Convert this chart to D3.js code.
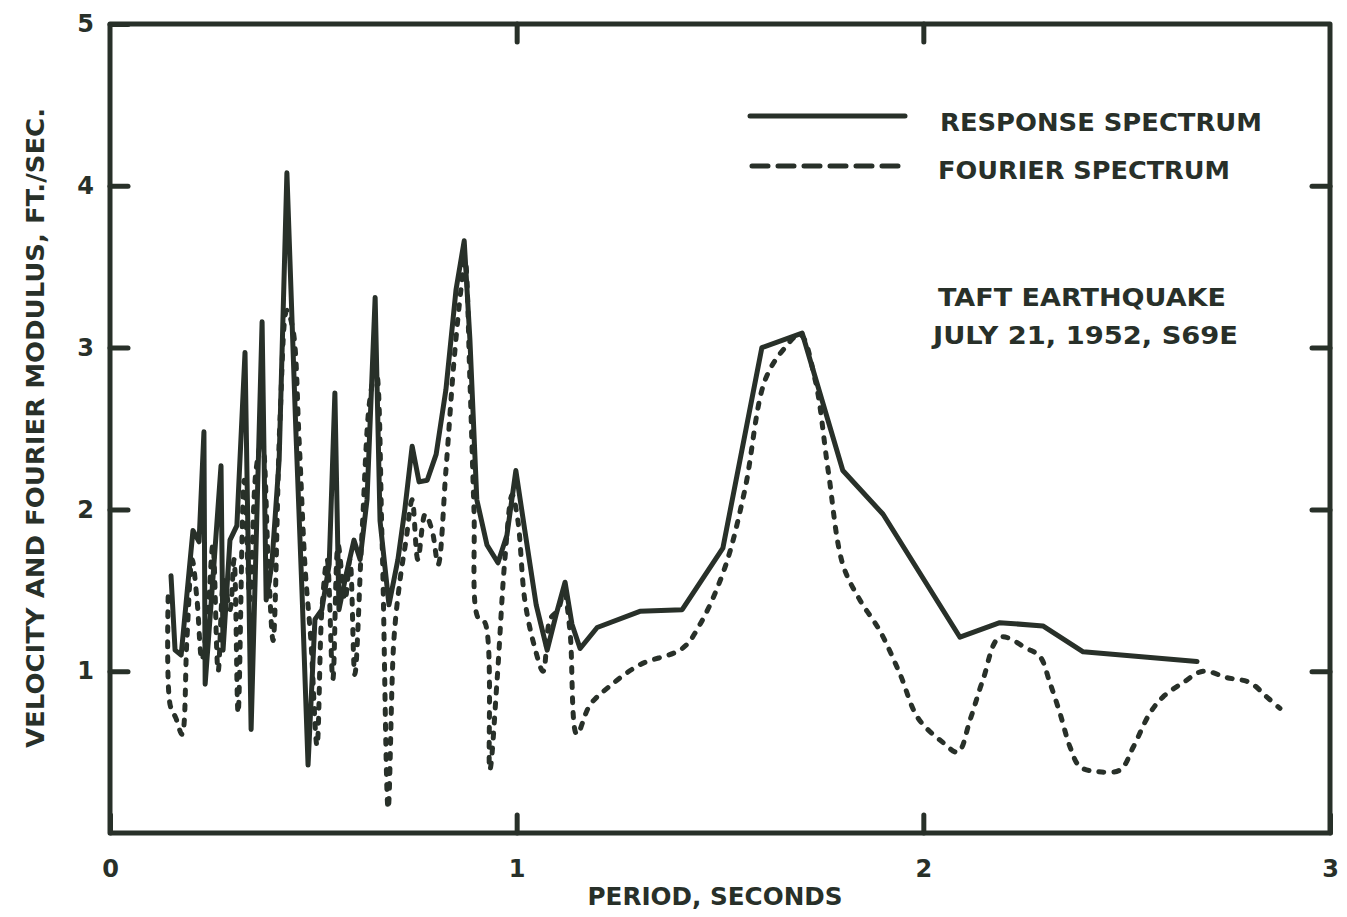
<!DOCTYPE html>
<html>
<head>
<meta charset="utf-8">
<script src="https://cdn.jsdelivr.net/npm/d3@7"></script>
<style>
  body { margin: 0; background: #fff; }
  text { font-family: "DejaVu Sans", sans-serif; font-weight: bold; fill: #283029; }
</style>
</head>
<body>
<div id="chart"></div>
<script>
// Response spectrum (solid line): period in seconds, velocity in ft/sec
const responsePeriod = [0.150, 0.160, 0.175, 0.204, 0.219, 0.231, 0.234, 0.251, 0.273, 0.278,
  0.295, 0.312, 0.332, 0.347, 0.374, 0.384, 0.398, 0.416, 0.435, 0.457,
  0.472, 0.487, 0.504, 0.521, 0.539, 0.553, 0.563, 0.580, 0.600, 0.615,
  0.632, 0.652, 0.664, 0.686, 0.708, 0.725, 0.743, 0.760, 0.780, 0.802,
  0.826, 0.851, 0.871, 0.885, 0.902, 0.927, 0.954, 0.976, 0.998, 1.020,
  1.048, 1.075, 1.097, 1.119, 1.136, 1.156, 1.198, 1.303, 1.407, 1.507,
  1.603, 1.702, 1.802, 1.901, 2.090, 2.188, 2.294, 2.393, 2.673];
const responseValue = [1.59, 1.13, 1.10, 1.87, 1.80, 2.48, 0.92, 1.50, 2.27, 1.13,
  1.81, 1.90, 2.97, 0.64, 3.16, 1.44, 1.66, 2.31, 4.08, 2.49,
  1.50, 0.42, 1.32, 1.38, 1.66, 2.72, 1.38, 1.59, 1.81, 1.69,
  2.06, 3.31, 1.93, 1.41, 1.69, 2.00, 2.39, 2.17, 2.18, 2.34,
  2.74, 3.36, 3.66, 3.05, 2.06, 1.78, 1.67, 1.84, 2.24, 1.87,
  1.41, 1.13, 1.35, 1.55, 1.29, 1.14, 1.27, 1.37, 1.38, 1.76,
  3.00, 3.09, 2.24, 1.97, 1.21, 1.30, 1.28, 1.12, 1.06];

// Fourier spectrum (dashed line): period in seconds, Fourier modulus in ft/sec
const fourierPeriod = [0.143, 0.148, 0.162, 0.177, 0.189, 0.202, 0.214, 0.226, 0.241, 0.253,
  0.266, 0.280, 0.295, 0.305, 0.315, 0.330, 0.344, 0.359, 0.374, 0.389,
  0.401, 0.418, 0.435, 0.450, 0.465, 0.480, 0.494, 0.509, 0.521, 0.534,
  0.548, 0.561, 0.578, 0.590, 0.602, 0.620, 0.639, 0.654, 0.669, 0.684,
  0.698, 0.713, 0.728, 0.743, 0.757, 0.775, 0.792, 0.807, 0.826, 0.846,
  0.863, 0.873, 0.885, 0.895, 0.905, 0.922, 0.934, 0.952, 0.971, 0.989,
  1.003, 1.020, 1.043, 1.065, 1.082, 1.102, 1.116, 1.131, 1.148, 1.180,
  1.230, 1.303, 1.407, 1.451, 1.512, 1.561, 1.611, 1.660, 1.697, 1.734,
  1.766, 1.802, 1.844, 1.893, 1.943, 1.987, 2.048, 2.085, 2.115, 2.147,
  2.188, 2.255, 2.287, 2.311, 2.336, 2.361, 2.385, 2.427, 2.484, 2.516,
  2.557, 2.589, 2.639, 2.688, 2.747, 2.803, 2.845, 2.877];
const fourierValue = [1.46, 0.79, 0.71, 0.61, 1.19, 1.69, 1.44, 1.07, 1.38, 1.78,
  1.00, 1.56, 1.38, 1.69, 0.74, 2.18, 1.44, 2.24, 2.43, 1.69,
  1.19, 2.55, 3.23, 3.11, 2.43, 1.63, 1.19, 0.54, 1.38, 1.69,
  0.95, 1.78, 1.44, 1.69, 0.98, 1.87, 2.68, 2.86, 1.81, 0.15,
  1.19, 1.56, 1.81, 2.06, 1.69, 1.97, 1.87, 1.66, 2.24, 2.92,
  3.36, 3.55, 2.80, 2.00, 1.33, 1.30, 0.39, 0.95, 1.69, 2.09,
  1.93, 1.44, 1.16, 1.00, 1.32, 1.38, 1.49, 1.25, 0.61, 0.79,
  0.91, 1.04, 1.14, 1.29, 1.64, 2.12, 2.80, 3.00, 3.08, 2.80,
  2.24, 1.66, 1.44, 1.25, 0.98, 0.71, 0.56, 0.50, 0.70, 0.95,
  1.21, 1.14, 1.09, 0.93, 0.74, 0.53, 0.41, 0.38, 0.39, 0.53,
  0.74, 0.84, 0.93, 1.00, 0.96, 0.93, 0.84, 0.77];

const xTicks = [0, 1, 2, 3];
const yTicks = [1, 2, 3, 4, 5];
const legendLabels = ["RESPONSE SPECTRUM", "FOURIER SPECTRUM"];
const noteLines = ["TAFT EARTHQUAKE", "JULY 21, 1952, S69E"];

const ink = "#283029";
const W = 1347, H = 917;
const margin = { top: 24, right: 17, bottom: 84, left: 110 };

const svg = d3.select("#chart")
  .append("svg")
  .attr("width", W)
  .attr("height", H);

const x = d3.scaleLinear().domain([0, 3]).range([margin.left, W - margin.right]);
const y = d3.scaleLinear().domain([0, 5]).range([H - margin.bottom, margin.top]);

// Axes: inward ticks on all four sides
const tickLen = 18;
svg.append("g")
  .attr("transform", `translate(0, ${y(0)})`)
  .call(d3.axisBottom(x).tickValues(xTicks).tickFormat(d3.format("d"))
    .tickSizeInner(-tickLen).tickSizeOuter(0).tickPadding(27))
  .call(g => g.select(".domain").remove());

svg.append("g")
  .attr("transform", `translate(0, ${y(5)})`)
  .call(d3.axisTop(x).tickValues([1, 2]).tickSizeInner(-tickLen).tickSizeOuter(0).tickFormat(""))
  .call(g => g.select(".domain").remove());

svg.append("g")
  .attr("transform", `translate(${x(0)}, 0)`)
  .call(d3.axisLeft(y).tickValues(yTicks).tickFormat(d3.format("d"))
    .tickSizeInner(-tickLen).tickSizeOuter(0).tickPadding(16))
  .call(g => g.select(".domain").remove());

svg.append("g")
  .attr("transform", `translate(${x(3)}, 0)`)
  .call(d3.axisRight(y).tickValues([1, 2, 3, 4]).tickSizeInner(-tickLen).tickSizeOuter(0).tickFormat(""))
  .call(g => g.select(".domain").remove());

svg.selectAll(".tick line")
  .attr("stroke", ink)
  .attr("stroke-width", 5)
  .attr("stroke-linecap", "round");

svg.selectAll(".tick text")
  .attr("font-size", 24)
  .attr("font-family", "DejaVu Sans")
  .attr("font-weight", "bold")
  .attr("fill", ink);

// frame
svg.append("rect")
  .attr("x", x(0))
  .attr("y", y(5))
  .attr("width", x(3) - x(0))
  .attr("height", y(0) - y(5))
  .attr("fill", "none")
  .attr("stroke", ink)
  .attr("stroke-width", 5)
  .attr("stroke-linejoin", "round");

// Lines
const line = d3.line()
  .x(d => x(d[0]))
  .y(d => y(d[1]));

const responseData = responsePeriod.map((p, i) => [p, responseValue[i]]);
const fourierData = fourierPeriod.map((p, i) => [p, fourierValue[i]]);

svg.append("path")
  .datum(fourierData)
  .attr("d", line.curve(d3.curveCatmullRom.alpha(0.5)))
  .attr("fill", "none")
  .attr("stroke", ink)
  .attr("stroke-width", 5)
  .attr("stroke-linecap", "round")
  .attr("stroke-dasharray", "5,10");

svg.append("path")
  .datum(responseData)
  .attr("d", line.curve(d3.curveLinear))
  .attr("fill", "none")
  .attr("stroke", ink)
  .attr("stroke-width", 5)
  .attr("stroke-linejoin", "round")
  .attr("stroke-linecap", "round");

// Legend
const legend = svg.append("g");
legend.append("line")
  .attr("x1", 750).attr("x2", 905)
  .attr("y1", 116).attr("y2", 116)
  .attr("stroke", ink).attr("stroke-width", 5).attr("stroke-linecap", "round");
legend.append("line")
  .attr("x1", 752).attr("x2", 903)
  .attr("y1", 166).attr("y2", 166)
  .attr("stroke", ink).attr("stroke-width", 5).attr("stroke-linecap", "round")
  .attr("stroke-dasharray", "16,10");

legend.selectAll("text.legend")
  .data(legendLabels)
  .enter()
  .append("text")
  .attr("class", "legend")
  .attr("x", (d, i) => i === 0 ? 940 : 938)
  .attr("y", (d, i) => i === 0 ? 131 : 179)
  .attr("font-size", 24)
  .attr("textLength", (d, i) => i === 0 ? 322 : 292)
  .attr("lengthAdjust", "spacingAndGlyphs")
  .text(d => d);

svg.selectAll("text.note")
  .data(noteLines)
  .enter()
  .append("text")
  .attr("class", "note")
  .attr("x", (d, i) => i === 0 ? 938 : 933)
  .attr("y", (d, i) => i === 0 ? 306 : 344)
  .attr("font-size", 24)
  .attr("textLength", (d, i) => i === 0 ? 288 : 305)
  .attr("lengthAdjust", "spacingAndGlyphs")
  .text(d => d);

// Axis titles
svg.append("text")
  .attr("x", 715)
  .attr("y", 905)
  .attr("text-anchor", "middle")
  .attr("font-size", 24)
  .attr("textLength", 255)
  .attr("lengthAdjust", "spacingAndGlyphs")
  .text("PERIOD, SECONDS");

svg.append("text")
  .attr("transform", "translate(44, 428) rotate(-90)")
  .attr("text-anchor", "middle")
  .attr("font-size", 24)
  .attr("textLength", 640)
  .attr("lengthAdjust", "spacingAndGlyphs")
  .text("VELOCITY AND FOURIER MODULUS, FT./SEC.");
</script>
</body>
</html>
